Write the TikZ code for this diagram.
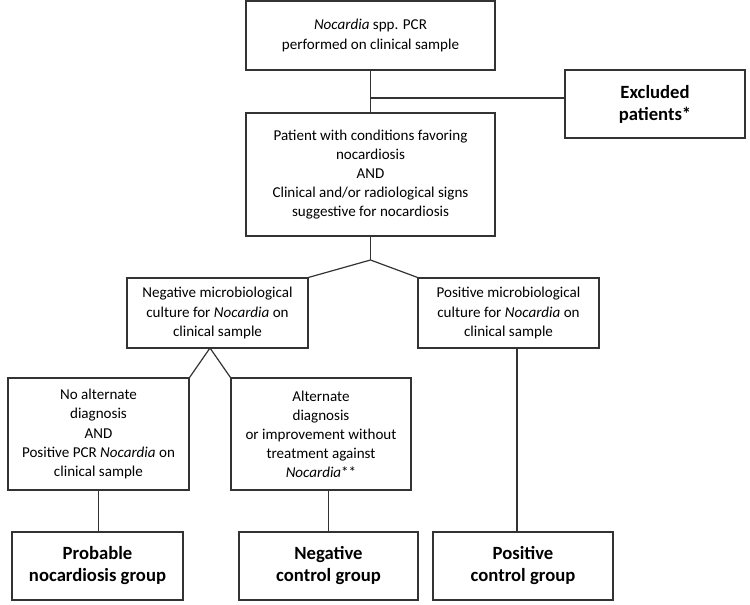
\documentclass[tikz,border=0pt]{standalone}
\usepackage{fontspec}
\setmainfont{Carlito}
\usepackage{tikz}

\begin{document}
\begin{tikzpicture}[x=0.75pt, y=0.75pt,
		box/.style={draw=black!80, line width=0.9pt, align=center, inner sep=2pt,
			font=\fontsize{11.3}{14.3}\selectfont},
		groupbox/.style={box, font=\fontsize{14}{16.5}\selectfont\bfseries},
		link/.style={draw=black!80, line width=0.9pt}]

		\useasboundingbox (0,0) rectangle (750,-604);

		\node[box, minimum width=186.75pt, minimum height=51.75pt] (pcr) at (370.5,-35.5) {
			\textit{Nocardia} spp. PCR\\ performed on clinical sample
		};
		\node[groupbox, minimum width=135pt, minimum height=51pt] (excluded) at (655,-104) {
			Excluded\\ patients*
		};
		\node[box, minimum width=186.75pt, minimum height=92.25pt] (cond) at (370.5,-174.5) {
			Patient with conditions favoring\\ nocardiosis\\ AND\\
			Clinical and/or radiological signs\\ suggestive for nocardiosis
		};
		\node[box, minimum width=135.75pt, minimum height=52.5pt] (negcult) at (217.5,-313) {
			Negative microbiological\\ culture for \textit{Nocardia} on\\ clinical sample
		};
		\node[box, minimum width=135.75pt, minimum height=52.5pt] (poscult) at (508.5,-313) {
			Positive microbiological\\ culture for \textit{Nocardia} on\\ clinical sample
		};
		\node[box, minimum width=135.75pt, minimum height=84pt] (noalt) at (98.5,-434) {
			No alternate\\ diagnosis\\ AND\\ Positive PCR \textit{Nocardia} on\\ clinical sample
		};
		\node[box, minimum width=135pt, minimum height=84pt] (alt) at (321,-434) {
			Alternate\\ diagnosis\\ or improvement without\\ treatment against\\ \textit{Nocardia}**
		};
		\node[groupbox, minimum width=128.25pt, minimum height=51pt] (probable) at (97.5,-566) {
			Probable\\ nocardiosis group
		};
		\node[groupbox, minimum width=134.25pt, minimum height=51pt] (negctrl) at (328.5,-566) {
			Negative\\ control group
		};
		\node[groupbox, minimum width=135pt, minimum height=51pt] (posctrl) at (523,-566) {
			Positive\\ control group
		};

		% branching points
		\coordinate (split1) at (370.5,-98);
		\coordinate (split2) at (370.5,-260);
		\coordinate (split3) at (210,-348);
		\coordinate (down3) at (517,-348);

		\draw[link] (pcr.south) -- (cond.north);
		\draw[link] (split1) -- (split1 -| excluded.west);
		\draw[link] (cond.south) -- (split2);
		\draw[link] (split2) -- (negcult.north east);
		\draw[link] (split2) -- (poscult.north west);
		\draw[link] (split3) -- (noalt.north east);
		\draw[link] (split3) -- (alt.north west);
		\draw[link] (noalt.south) -- (noalt.south |- probable.north);
		\draw[link] (negctrl.north |- alt.south) -- (negctrl.north);
		\draw[link] (down3) -- (down3 |- posctrl.north);

\end{tikzpicture}
\end{document}
